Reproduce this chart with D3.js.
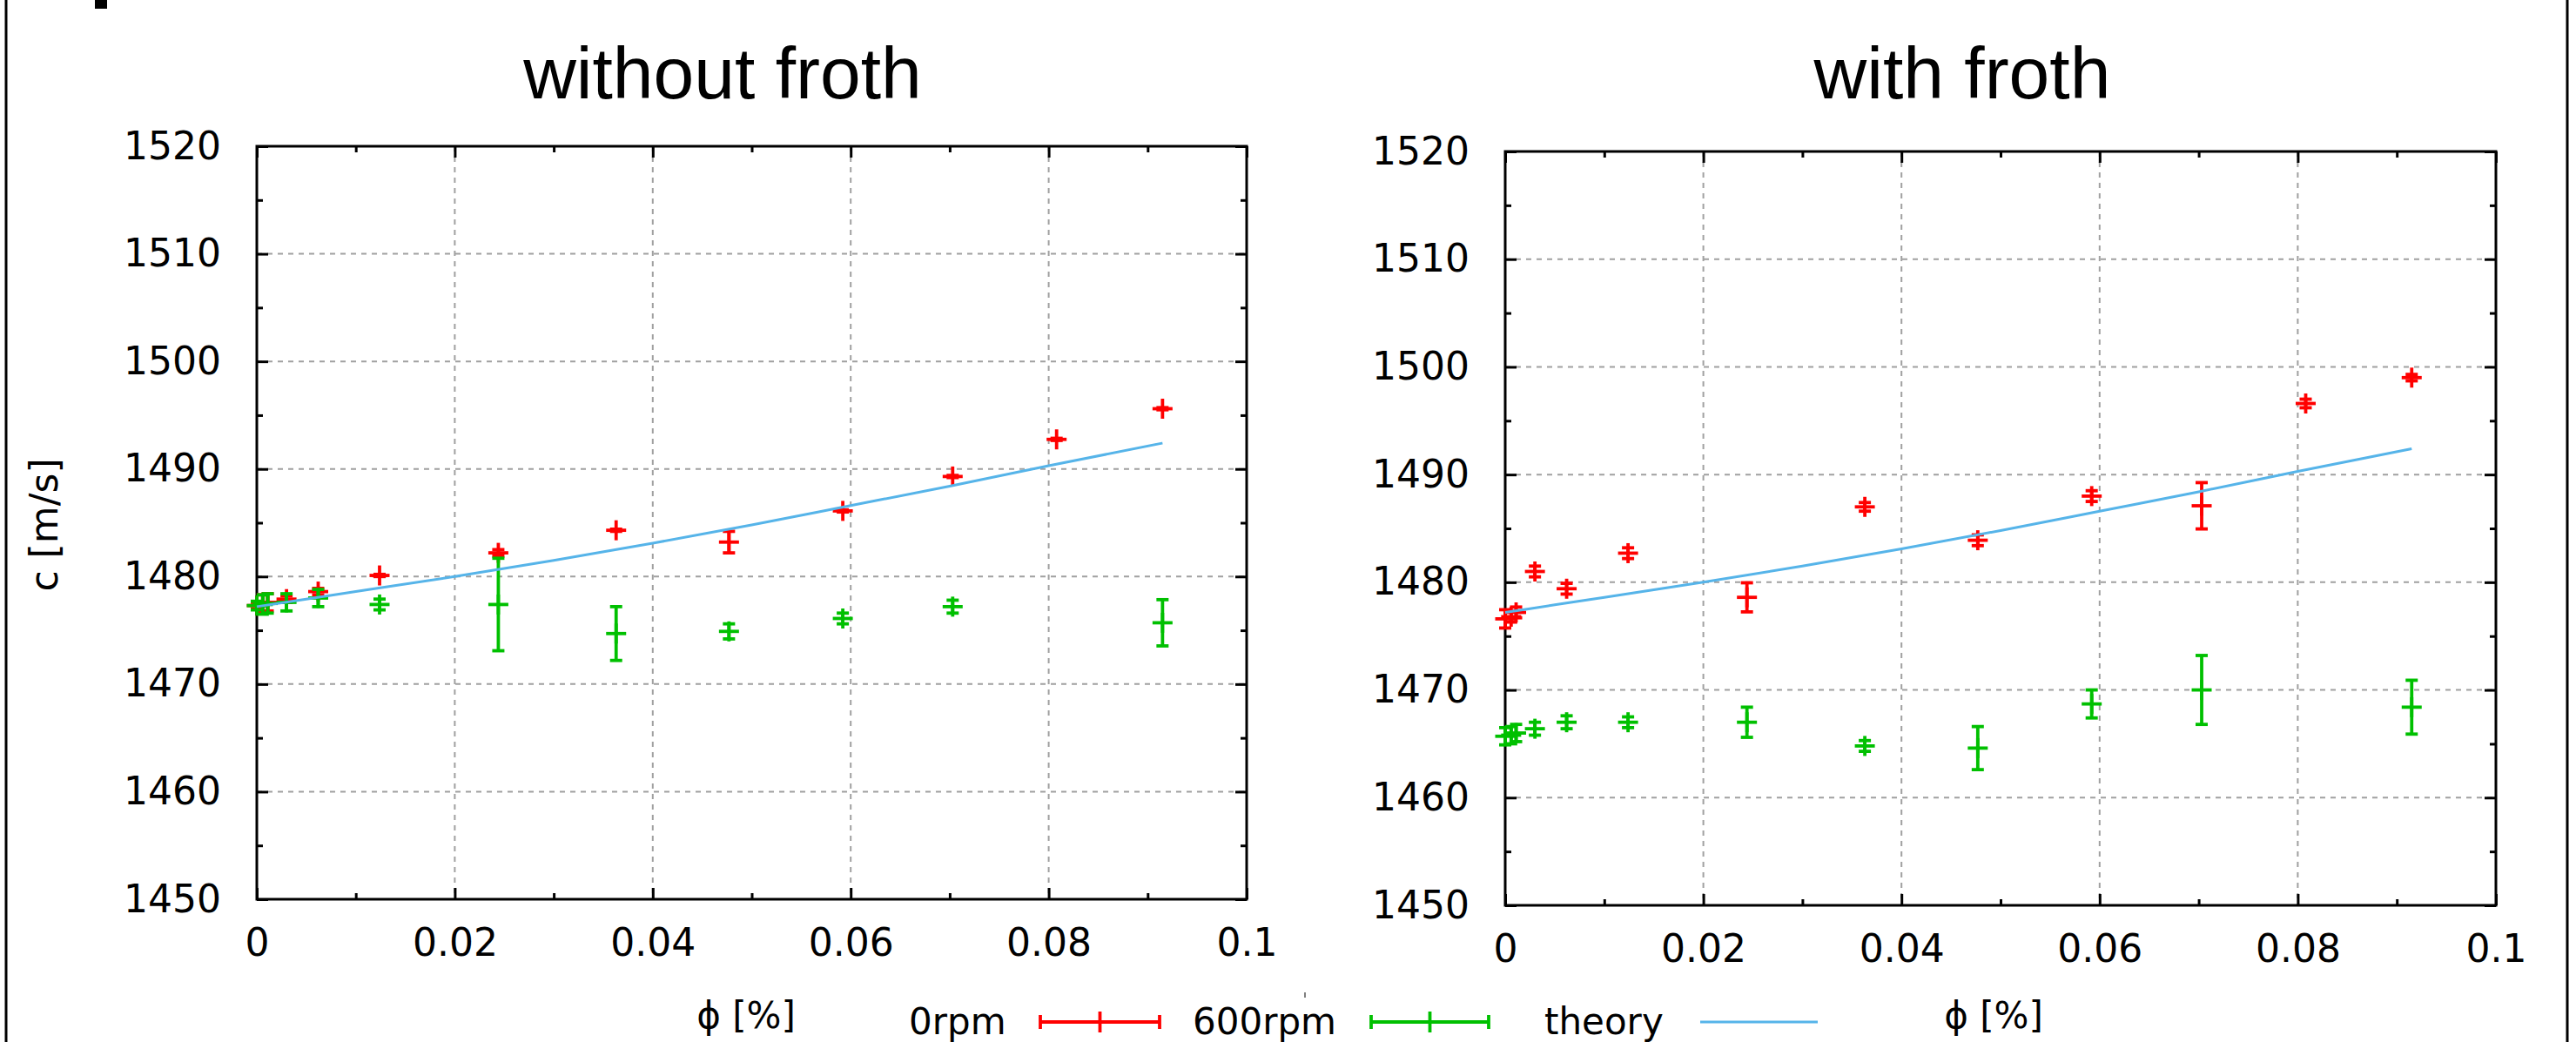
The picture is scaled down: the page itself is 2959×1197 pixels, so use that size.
<!DOCTYPE html>
<html>
<head>
<meta charset="utf-8">
<script src="https://cdn.jsdelivr.net/npm/d3@7"></script>
<style>
  body { margin: 0; background: #fff; }
  svg { display: block; }
</style>
</head>
<body>
<svg id="chart" width="2959" height="1197"></svg>
<script>
// volume fraction of the measurement points, same for both panels
const phi = [0, 0.0006, 0.0011, 0.003, 0.0062, 0.0124, 0.0244, 0.0363, 0.0477, 0.0592, 0.0703, 0.0808, 0.0915]

// without froth
const plainRpm0 = [1477.3, 1477.5, 1477.6, 1477.9, 1478.6, 1480.1, 1482.2, 1484.3, 1483.2, 1486.1, 1489.3, 1492.75, 1495.6]
const plainRpm0Err = [0.3, 0.8, 0.8, 0.3, 0.3, 0.1, 0.3, 0.1, 1.0, 0.1, 0.1, 0.1, 0.1]
const plainRpm600 = [1477.3, 1477.4, 1477.5, 1477.6, 1478.0, 1477.4, 1477.4, 1474.7, 1474.9, 1476.1, 1477.2, null, 1475.7]
const plainRpm600Err = [0.4, 0.9, 0.9, 0.8, 0.8, 0.5, 4.3, 2.5, 0.7, 0.5, 0.6, null, 2.15]

// with froth
const frothRpm0 = [1476.6, 1476.8, 1477.2, 1481.0, 1479.4, 1482.7, 1478.6, 1487.0, 1483.9, 1488.0, 1487.1, 1496.6, 1499.0]
const frothRpm0Err = [0.85, 0.5, 0.5, 0.5, 0.5, 0.5, 1.35, 0.4, 0.5, 0.5, 2.15, 0.4, 0.3]
const frothRpm600 = [1465.7, 1465.8, 1466.0, 1466.4, 1467.0, 1467.0, 1467.0, 1464.8, 1464.6, 1468.7, 1470.0, null, 1468.4]
const frothRpm600Err = [0.8, 0.8, 0.8, 0.6, 0.6, 0.5, 1.4, 0.5, 2.0, 1.3, 3.2, null, 2.5]

// theory curve
const theoryPhi = [0, 0.005, 0.01, 0.02, 0.03, 0.04, 0.05, 0.06, 0.07, 0.08, 0.0915]
const theoryC = [1477.2, 1477.9, 1478.6, 1480.0, 1481.5, 1483.1, 1484.8, 1486.6, 1488.4, 1490.3, 1492.4]

const xTicks = [0, 0.02, 0.04, 0.06, 0.08, 0.1]
const xMinor = [0.01, 0.03, 0.05, 0.07, 0.09]
const yTicks = [1450, 1460, 1470, 1480, 1490, 1500, 1510, 1520]
const yMinor = [1455, 1465, 1475, 1485, 1495, 1505, 1515]

const RED = "#ff0000", GREEN = "#00c000", BLUE = "#56b4e9"
const tickFont = "'DejaVu Sans', sans-serif"
const markW = 3.8

const svg = d3.select("#chart")

// outer frame pieces
svg.append("line").attr("x1", 7).attr("x2", 7).attr("y1", 0).attr("y2", 1197)
    .attr("stroke", "#000").attr("stroke-width", 3)
svg.append("line").attr("x1", 2949).attr("x2", 2949).attr("y1", 0).attr("y2", 1197)
    .attr("stroke", "#000").attr("stroke-width", 3)
svg.append("rect").attr("x", 109).attr("y", 0).attr("width", 14).attr("height", 10).attr("fill", "#000")

function zip(xs, ys, es){
    return xs.map((x, i) => ({x: x, y: ys[i], e: es[i]})).filter(d => d.y !== null)
}

function drawPanel(opt){
    const x = d3.scaleLinear().domain([0, 0.1]).range([opt.left, opt.right])
    const y = d3.scaleLinear().domain([1450, 1520]).range([opt.bottom, opt.top])
    const g = svg.append("g")

    // grid
    g.selectAll("line.gx").data(xTicks.slice(1, -1)).enter().append("line")
        .attr("x1", d => x(d)).attr("x2", d => x(d))
        .attr("y1", opt.top).attr("y2", opt.bottom)
        .attr("stroke", "#a0a0a0").attr("stroke-width", 2).attr("stroke-dasharray", "6,6")
    g.selectAll("line.gy").data(yTicks.slice(1, -1)).enter().append("line")
        .attr("x1", opt.left).attr("x2", opt.right)
        .attr("y1", d => y(d)).attr("y2", d => y(d))
        .attr("stroke", "#a0a0a0").attr("stroke-width", 2).attr("stroke-dasharray", "6,6")

    // axes, ticks pointing inwards
    g.append("g").attr("transform", "translate(0," + opt.bottom + ")")
        .call(d3.axisBottom(x).tickValues(xTicks).tickSizeInner(-13).tickSizeOuter(0)
            .tickPadding(34).tickFormat(d => d3.format("~g")(d)))
    g.append("g").attr("transform", "translate(" + opt.left + ",0)")
        .call(d3.axisLeft(y).tickValues(yTicks).tickSizeInner(-13).tickSizeOuter(0)
            .tickPadding(41).tickFormat(d3.format("d")))
    g.append("g").attr("transform", "translate(0," + opt.top + ")")
        .call(d3.axisTop(x).tickValues(xTicks).tickSizeInner(-13).tickSizeOuter(0).tickFormat(""))
    g.append("g").attr("transform", "translate(" + opt.right + ",0)")
        .call(d3.axisRight(y).tickValues(yTicks).tickSizeInner(-13).tickSizeOuter(0).tickFormat(""))
    g.append("g").attr("transform", "translate(0," + opt.bottom + ")")
        .call(d3.axisBottom(x).tickValues(xMinor).tickSizeInner(-7).tickSizeOuter(0).tickFormat(""))
    g.append("g").attr("transform", "translate(0," + opt.top + ")")
        .call(d3.axisTop(x).tickValues(xMinor).tickSizeInner(-7).tickSizeOuter(0).tickFormat(""))
    g.append("g").attr("transform", "translate(" + opt.left + ",0)")
        .call(d3.axisLeft(y).tickValues(yMinor).tickSizeInner(-7).tickSizeOuter(0).tickFormat(""))
    g.append("g").attr("transform", "translate(" + opt.right + ",0)")
        .call(d3.axisRight(y).tickValues(yMinor).tickSizeInner(-7).tickSizeOuter(0).tickFormat(""))

    g.selectAll(".domain").remove()
    g.selectAll(".tick line").attr("stroke", "#000").attr("stroke-width", 3)
    g.selectAll(".tick text").attr("font-family", tickFont).attr("font-size", 44).attr("fill", "#000")

    g.append("rect")
        .attr("x", opt.left).attr("y", opt.top)
        .attr("width", opt.right - opt.left).attr("height", opt.bottom - opt.top)
        .attr("fill", "none").attr("stroke", "#000").attr("stroke-width", 3)

    // error bars with + markers
    opt.series.forEach(s => {
        const pts = g.append("g").selectAll("g").data(zip(phi, s.values, s.errors)).enter().append("g")
            .attr("stroke", s.color).attr("stroke-width", markW).attr("fill", "none")
        pts.append("line")
            .attr("x1", d => x(d.x)).attr("x2", d => x(d.x))
            .attr("y1", d => y(d.y - d.e)).attr("y2", d => y(d.y + d.e))
        pts.append("line")
            .attr("x1", d => x(d.x) - 7).attr("x2", d => x(d.x) + 7)
            .attr("y1", d => y(d.y - d.e)).attr("y2", d => y(d.y - d.e))
        pts.append("line")
            .attr("x1", d => x(d.x) - 7).attr("x2", d => x(d.x) + 7)
            .attr("y1", d => y(d.y + d.e)).attr("y2", d => y(d.y + d.e))
        pts.append("line")
            .attr("x1", d => x(d.x) - 11.5).attr("x2", d => x(d.x) + 11.5)
            .attr("y1", d => y(d.y)).attr("y2", d => y(d.y))
        pts.append("line")
            .attr("x1", d => x(d.x)).attr("x2", d => x(d.x))
            .attr("y1", d => y(d.y) - 11.5).attr("y2", d => y(d.y) + 11.5)
    })

    const line = d3.line().x(d => x(d[0])).y(d => y(d[1])).curve(d3.curveMonotoneX)
    g.append("path")
        .datum(theoryPhi.map((p, i) => [p, theoryC[i]]))
        .attr("d", line)
        .attr("fill", "none").attr("stroke", BLUE).attr("stroke-width", 3)

    svg.append("text")
        .attr("x", opt.titleX).attr("y", 113)
        .attr("text-anchor", "middle")
        .attr("font-family", "'Liberation Sans', Arial, sans-serif").attr("font-size", 84)
        .text(opt.title)

    svg.append("text")
        .attr("x", opt.phiX).attr("y", 1181)
        .attr("text-anchor", "middle")
        .attr("font-family", tickFont).attr("font-size", 42)
        .text("ϕ [%]")
}

drawPanel({
    left: 295, right: 1432, top: 168, bottom: 1033,
    title: "without froth", titleX: 830, phiX: 857,
    series: [
        {values: plainRpm0, errors: plainRpm0Err, color: RED},
        {values: plainRpm600, errors: plainRpm600Err, color: GREEN}
    ]
})

drawPanel({
    left: 1729, right: 2867, top: 174, bottom: 1040,
    title: "with froth", titleX: 2254, phiX: 2290,
    series: [
        {values: frothRpm0, errors: frothRpm0Err, color: RED},
        {values: frothRpm600, errors: frothRpm600Err, color: GREEN}
    ]
})

// y label
svg.append("text")
    .attr("transform", "translate(66,603) rotate(-90)")
    .attr("text-anchor", "middle")
    .attr("font-family", tickFont).attr("font-size", 44)
    .text("c [m/s]")

// legend
const legend = svg.append("g").attr("font-family", tickFont).attr("font-size", 42)
const legendItems = [
    {label: "0rpm", tx: 1044, x1: 1195, x2: 1332, color: RED, bar: true},
    {label: "600rpm", tx: 1370, x1: 1575, x2: 1710, color: GREEN, bar: true},
    {label: "theory", tx: 1774, x1: 1953, x2: 2088, color: BLUE, bar: false}
]
legendItems.forEach(it => {
    legend.append("text").attr("x", it.tx).attr("y", 1188).text(it.label)
    const ly = 1174
    const sw = it.bar ? markW : 3
    legend.append("line").attr("x1", it.x1).attr("x2", it.x2).attr("y1", ly).attr("y2", ly)
        .attr("stroke", it.color).attr("stroke-width", sw)
    if (it.bar){
        [it.x1, it.x2].forEach(cx => legend.append("line")
            .attr("x1", cx).attr("x2", cx).attr("y1", ly - 8).attr("y2", ly + 8)
            .attr("stroke", it.color).attr("stroke-width", sw))
        const mid = (it.x1 + it.x2) / 2
        legend.append("line").attr("x1", mid).attr("x2", mid).attr("y1", ly - 12).attr("y2", ly + 12)
            .attr("stroke", it.color).attr("stroke-width", sw)
    }
})
svg.append("line").attr("x1", 1499).attr("x2", 1499).attr("y1", 1140).attr("y2", 1146)
    .attr("stroke", "#555").attr("stroke-width", 1.5)
</script>
</body>
</html>
